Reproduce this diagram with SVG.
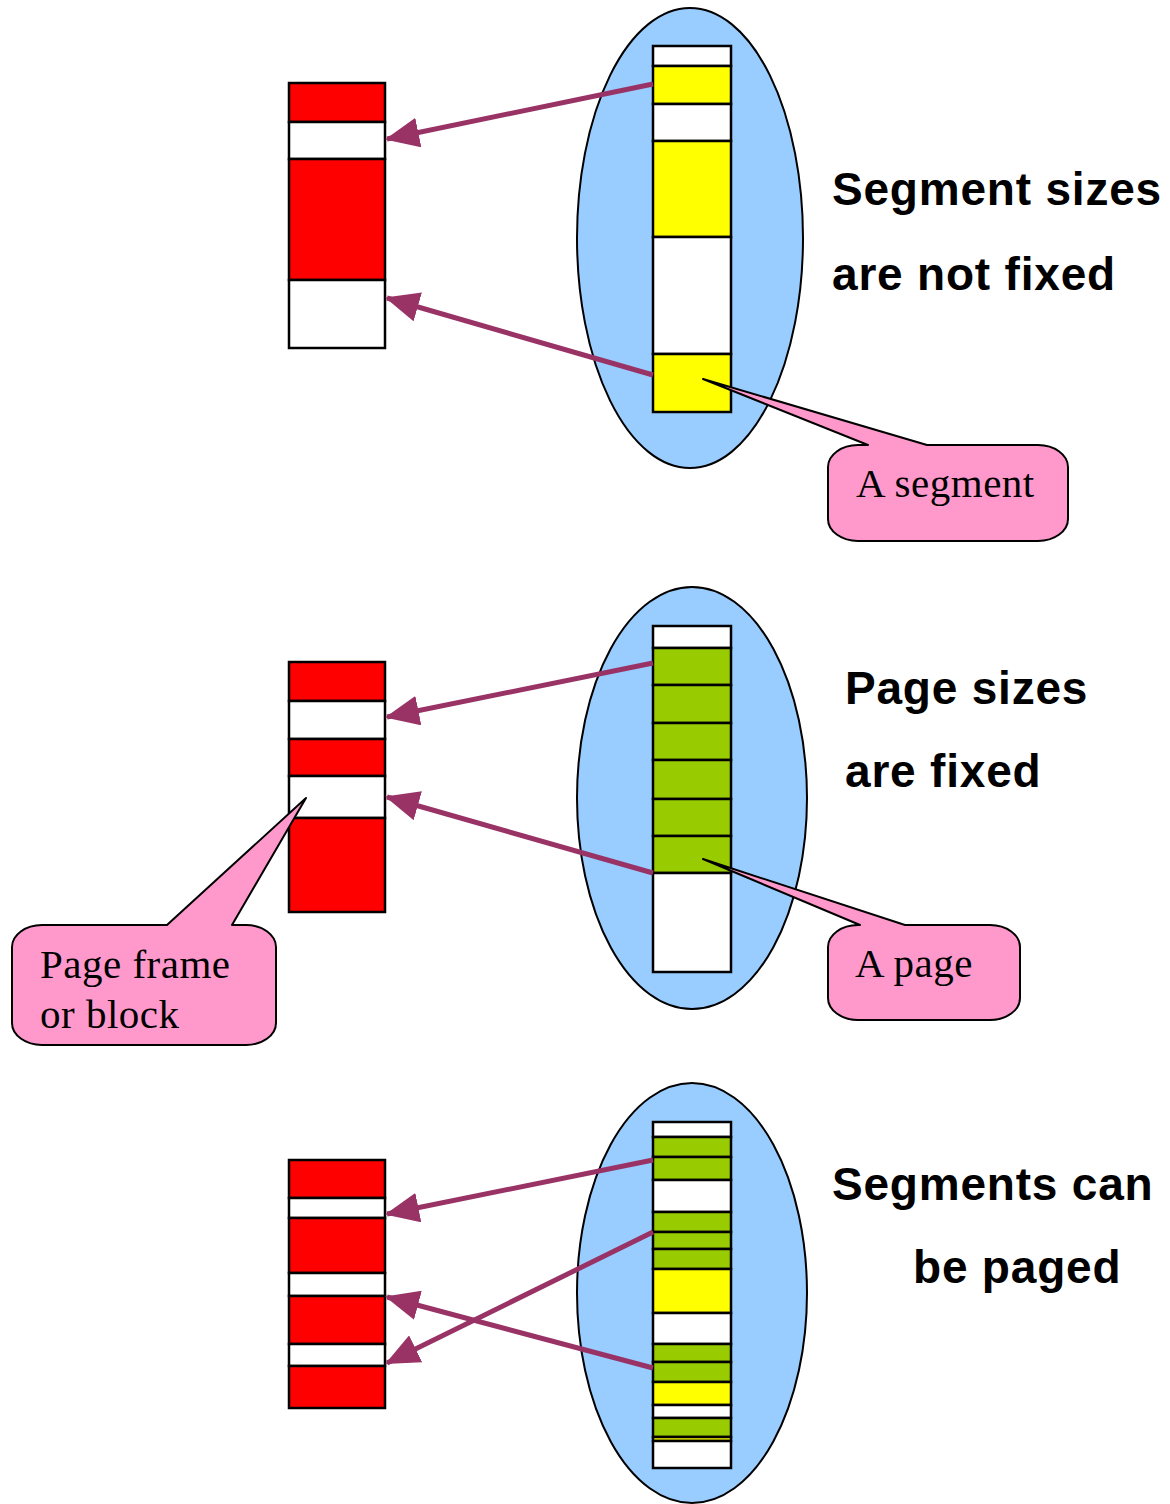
<svg xmlns="http://www.w3.org/2000/svg" width="1170" height="1504" viewBox="0 0 1170 1504">
  <style>
    .cell { stroke: #000; stroke-width: 2.5; }
    .red { fill: #FF0000; }
    .white { fill: #FFFFFF; }
    .yellow { fill: #FFFF00; }
    .green { fill: #99CC00; }
    .space { fill: #99CCFF; stroke: #000; stroke-width: 2; }
    .arrow { stroke: #993366; stroke-width: 5; fill: none; marker-end: url(#head); }
    .callout { fill: #FF99CC; stroke: #000; stroke-width: 2; stroke-linejoin: round; }
    .note { font-family: "Liberation Serif", "Times New Roman", serif; font-size: 41px; letter-spacing: 0.5px; fill: #000; }
    .title { font-family: "Liberation Sans", Arial, sans-serif; font-size: 46px; font-weight: bold; letter-spacing: 0.8px; fill: #000; }
  </style>
  <defs>
    <marker id="head" markerUnits="userSpaceOnUse" markerWidth="34" markerHeight="30" refX="32" refY="15" orient="auto">
      <path d="M0,0 L34,15 L0,30 Z" fill="#993366"/>
    </marker>
  </defs>

  <rect width="1170" height="1504" fill="#FFFFFF"/>

  <!-- Segmentation: physical memory -->
  <g id="seg-memory">
    <rect class="cell red" x="289" y="83" width="96" height="39"/>
    <rect class="cell white" x="289" y="122" width="96" height="37"/>
    <rect class="cell red" x="289" y="159" width="96" height="121"/>
    <rect class="cell white" x="289" y="280" width="96" height="68"/>
  </g>

  <!-- Segmentation: logical address space -->
  <g id="seg-space">
    <ellipse class="space" cx="690" cy="238" rx="113" ry="230"/>
    <rect class="cell white" x="653" y="46" width="78" height="20"/>
    <rect class="cell yellow" x="653" y="66" width="78" height="38"/>
    <rect class="cell white" x="653" y="104" width="78" height="37"/>
    <rect class="cell yellow" x="653" y="141" width="78" height="96"/>
    <rect class="cell white" x="653" y="237" width="78" height="117"/>
    <rect class="cell yellow" x="653" y="354" width="78" height="58"/>
  </g>

  <g id="seg-title">
    <text class="title" x="832" y="205">Segment sizes</text>
    <text class="title" x="832" y="290">are not fixed</text>
  </g>

  <g id="seg-callout">
    <path class="callout" d="M858,445 L868,445 L703,379 L927,445 L1038,445 A30,22 0 0 1 1068,467 L1068,519 A30,22 0 0 1 1038,541 L858,541 A30,22 0 0 1 828,519 L828,467 A30,22 0 0 1 858,445 Z"/>
    <text class="note" x="856" y="497">A segment</text>
  </g>

  <!-- Paging: physical memory -->
  <g id="page-memory">
    <rect class="cell red" x="289" y="662" width="96" height="39"/>
    <rect class="cell white" x="289" y="701" width="96" height="38"/>
    <rect class="cell red" x="289" y="739" width="96" height="37"/>
    <rect class="cell white" x="289" y="776" width="96" height="42"/>
    <rect class="cell red" x="289" y="818" width="96" height="94"/>
  </g>

  <!-- Paging: logical address space -->
  <g id="page-space">
    <ellipse class="space" cx="692" cy="798" rx="115" ry="211"/>
    <rect class="cell white" x="653" y="626" width="78" height="22"/>
    <rect class="cell green" x="653" y="648" width="78" height="37"/>
    <rect class="cell green" x="653" y="685" width="78" height="38"/>
    <rect class="cell green" x="653" y="723" width="78" height="37"/>
    <rect class="cell green" x="653" y="760" width="78" height="39"/>
    <rect class="cell green" x="653" y="799" width="78" height="37"/>
    <rect class="cell green" x="653" y="836" width="78" height="37"/>
    <rect class="cell white" x="653" y="873" width="78" height="99"/>
  </g>

  <g id="page-title">
    <text class="title" x="845" y="704">Page sizes</text>
    <text class="title" x="845" y="787">are fixed</text>
  </g>

  <g id="page-callout">
    <path class="callout" d="M858,925 L860,925 L703,859 L905,925 L990,925 A30,22 0 0 1 1020,947 L1020,998 A30,22 0 0 1 990,1020 L858,1020 A30,22 0 0 1 828,998 L828,947 A30,22 0 0 1 858,925 Z"/>
    <text class="note" x="855" y="977">A page</text>
  </g>

  <g id="frame-callout">
    <path class="callout" d="M42,925 L167,925 L306,798 L232,925 L246,925 A30,22 0 0 1 276,947 L276,1023 A30,22 0 0 1 246,1045 L42,1045 A30,22 0 0 1 12,1023 L12,947 A30,22 0 0 1 42,925 Z"/>
    <text class="note" x="40" y="978">Page frame</text>
    <text class="note" x="40" y="1028">or block</text>
  </g>

  <!-- Paged segmentation: physical memory -->
  <g id="pseg-memory">
    <rect class="cell red" x="289" y="1160" width="96" height="38"/>
    <rect class="cell white" x="289" y="1198" width="96" height="20"/>
    <rect class="cell red" x="289" y="1218" width="96" height="55"/>
    <rect class="cell white" x="289" y="1273" width="96" height="23"/>
    <rect class="cell red" x="289" y="1296" width="96" height="48"/>
    <rect class="cell white" x="289" y="1344" width="96" height="22"/>
    <rect class="cell red" x="289" y="1366" width="96" height="42"/>
  </g>

  <!-- Paged segmentation: logical address space -->
  <g id="pseg-space">
    <ellipse class="space" cx="692" cy="1293" rx="115" ry="210"/>
    <rect class="cell white" x="653" y="1122" width="78" height="15"/>
    <rect class="cell green" x="653" y="1137" width="78" height="20"/>
    <rect class="cell green" x="653" y="1157" width="78" height="23"/>
    <rect class="cell white" x="653" y="1180" width="78" height="32"/>
    <rect class="cell green" x="653" y="1212" width="78" height="20"/>
    <rect class="cell green" x="653" y="1232" width="78" height="17"/>
    <rect class="cell green" x="653" y="1249" width="78" height="20"/>
    <rect class="cell yellow" x="653" y="1269" width="78" height="44"/>
    <rect class="cell white" x="653" y="1313" width="78" height="31"/>
    <rect class="cell green" x="653" y="1344" width="78" height="18"/>
    <rect class="cell green" x="653" y="1362" width="78" height="20"/>
    <rect class="cell yellow" x="653" y="1382" width="78" height="23"/>
    <rect class="cell white" x="653" y="1405" width="78" height="13"/>
    <rect class="cell green" x="653" y="1418" width="78" height="19"/>
    <rect class="cell yellow" x="653" y="1437" width="78" height="4"/>
    <rect class="cell white" x="653" y="1441" width="78" height="27"/>
  </g>

  <g id="pseg-title">
    <text class="title" x="832" y="1200">Segments can</text>
    <text class="title" x="913" y="1283">be paged</text>
  </g>

  <!-- Mappings from logical to physical -->
  <g id="connectors">
    <line class="arrow" x1="653" y1="84" x2="387" y2="139"/>
    <line class="arrow" x1="653" y1="375" x2="387" y2="298"/>
    <line class="arrow" x1="653" y1="663" x2="387" y2="717"/>
    <line class="arrow" x1="653" y1="873" x2="387" y2="797"/>
    <line class="arrow" x1="653" y1="1160" x2="387" y2="1214"/>
    <line class="arrow" x1="653" y1="1232" x2="387" y2="1363"/>
    <line class="arrow" x1="653" y1="1368" x2="387" y2="1297"/>
  </g>
</svg>
